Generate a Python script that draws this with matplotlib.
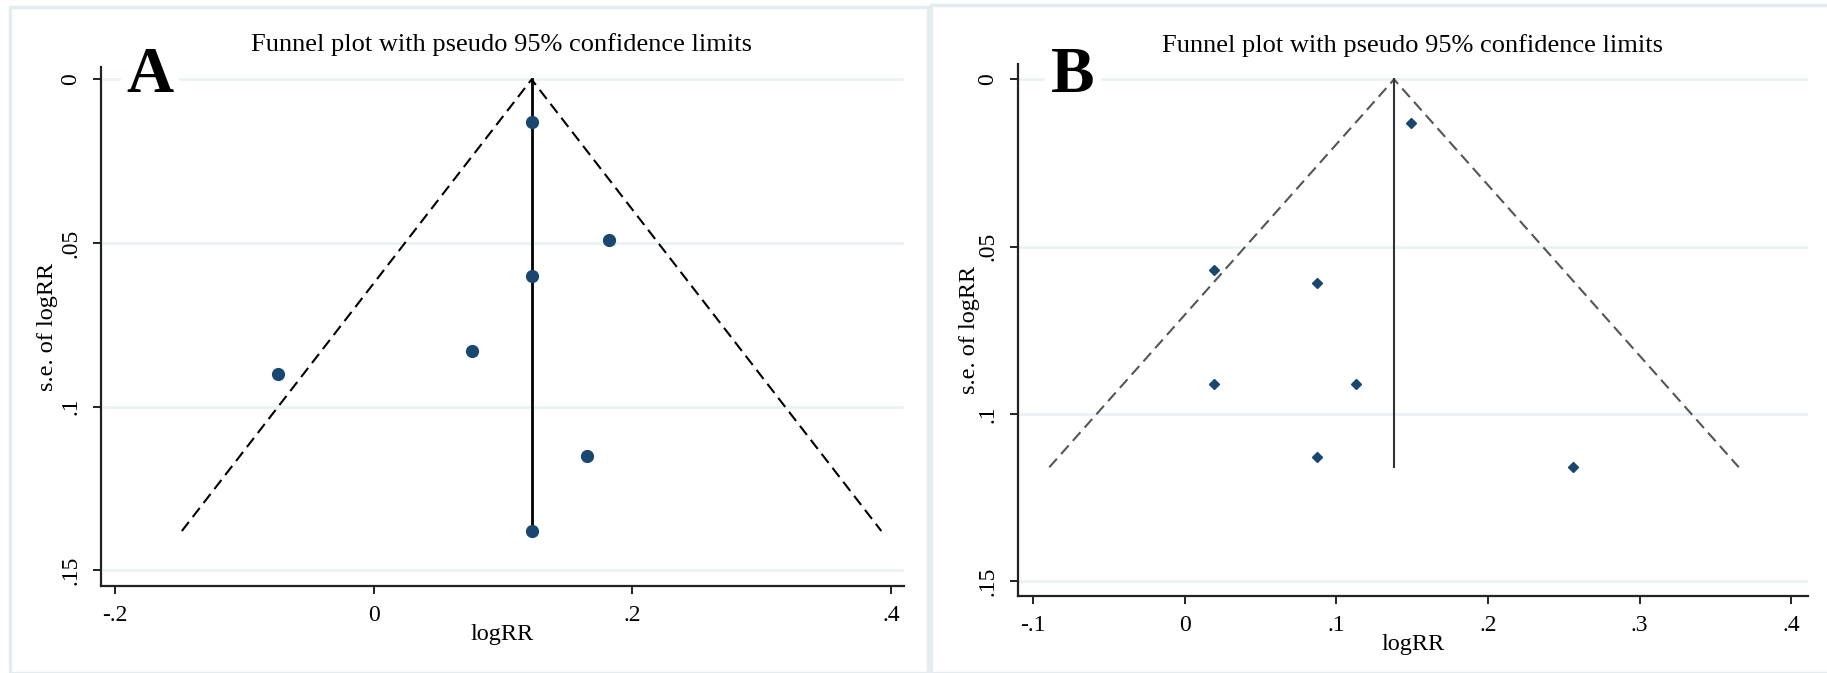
import numpy as np
import matplotlib.pyplot as plt
from matplotlib.patches import Rectangle

plt.rcParams['font.family'] = ['Liberation Serif', 'DejaVu Serif']

# panel A: study estimates (logRR) and their standard errors
a_logrr = [0.122, 0.182, 0.122, 0.076, -0.074, 0.165, 0.122]
a_se = [0.013, 0.049, 0.060, 0.083, 0.090, 0.115, 0.138]
a_pooled = 0.122
a_xticks = [-0.2, 0, 0.2, 0.4]
a_xlabels = ['-.2', '0', '.2', '.4']

# panel B
b_logrr = [0.149, 0.019, 0.087, 0.019, 0.113, 0.087, 0.256]
b_se = [0.013, 0.057, 0.061, 0.091, 0.091, 0.113, 0.116]
b_pooled = 0.138
b_xticks = [-0.1, 0, 0.1, 0.2, 0.3, 0.4]
b_xlabels = ['-.1', '0', '.1', '.2', '.3', '.4']

yticks = [0, 0.05, 0.1, 0.15]
ylabels = ['0', '.05', '.1', '.15']

W, H = 1827, 673
fig = plt.figure(figsize=(W / 100, H / 100), dpi=100)

# light frames round each Stata graph
border = '#e3ecf1'
fig.add_artist(Rectangle((10 / W, 0), (928 - 10) / W, 1 - 7 / H, transform=fig.transFigure,
                         fill=False, edgecolor=border, lw=2.5))
fig.add_artist(Rectangle((931 / W, 0), (W - 931 + 5) / W, 1 - 5 / H, transform=fig.transFigure,
                         fill=False, edgecolor=border, lw=2.5))


def funnel(ax, logrr, se, pooled, marker, msize, dash_color, dashes, vcolor, vlw):
    semax = max(se)
    ax.plot([pooled - 1.96 * semax, pooled, pooled + 1.96 * semax], [semax, 0, semax],
            color=dash_color, lw=1.5, dashes=dashes, zorder=2)
    ax.plot([pooled, pooled], [0, semax], color=vcolor, lw=vlw, zorder=2)
    ax.plot(logrr, se, linestyle='none', marker=marker, ms=msize,
            color='#1a476f', zorder=3)


def style(ax, xticks, xlabels, xlim, ylim):
    ax.set_xlim(*xlim)
    ax.set_ylim(*ylim)
    for s in ['top', 'right']:
        ax.spines[s].set_visible(False)
    for s in ['left', 'bottom']:
        ax.spines[s].set_linewidth(1.6)
        ax.spines[s].set_color('#222222')
    ax.set_xticks(xticks)
    ax.set_xticklabels(xlabels)
    ax.set_yticks(yticks)
    ax.set_yticklabels(ylabels, rotation=90, va='center')
    ax.tick_params(direction='out', length=6, width=1.4, pad=8, labelsize=17, color='#222222')
    ax.yaxis.grid(True, color='#eaf2f3', lw=2)
    ax.set_axisbelow(True)


title = 'Funnel plot with pseudo 95% confidence limits'

axA = fig.add_axes([101 / W, 1 - 586 / H, (904 - 101) / W, (586 - 67) / H])
funnel(axA, a_logrr, a_se, a_pooled, 'o', 8.5, 'black', (5.5, 3), 'black', 2)
style(axA, a_xticks, a_xlabels, (-0.211, 0.410), (0.1548, -0.0038))
axA.set_xlabel('logRR', fontsize=17.5, va='center')
axA.xaxis.set_label_coords(0.5, -0.0925)
axA.set_ylabel('s.e. of logRR', fontsize=17.5, va='center')
axA.yaxis.set_label_coords(-0.067, 0.5)
fig.text(502 / W, 1 - 45 / H, title, fontsize=19, ha='center', va='center')
fig.text(150 / W, 1 - 76 / H, 'A', fontsize=47, fontweight='bold', ha='center', va='center',
         bbox=dict(facecolor='white', edgecolor='none', pad=4))

axB = fig.add_axes([1018 / W, 1 - 596 / H, (1808 - 1018) / W, (596 - 64) / H])
funnel(axB, b_logrr, b_se, b_pooled, 'D', 5.5, '#555555', (5.5, 3), '#333333', 1.5)
style(axB, b_xticks, b_xlabels, (-0.110, 0.411), (0.1545, -0.0046))
axB.set_xlabel('logRR', fontsize=17.5, va='center')
axB.xaxis.set_label_coords(0.5, -0.0905)
axB.set_ylabel('s.e. of logRR', fontsize=17.5, va='center')
axB.yaxis.set_label_coords(-0.062, 0.5)
fig.text(1412 / W, 1 - 46 / H, title, fontsize=19, ha='center', va='center')
fig.text(1073 / W, 1 - 76 / H, 'B', fontsize=47, fontweight='bold', ha='center', va='center',
         bbox=dict(facecolor='white', edgecolor='none', pad=4))

fig.savefig('out.png', dpi=100)
